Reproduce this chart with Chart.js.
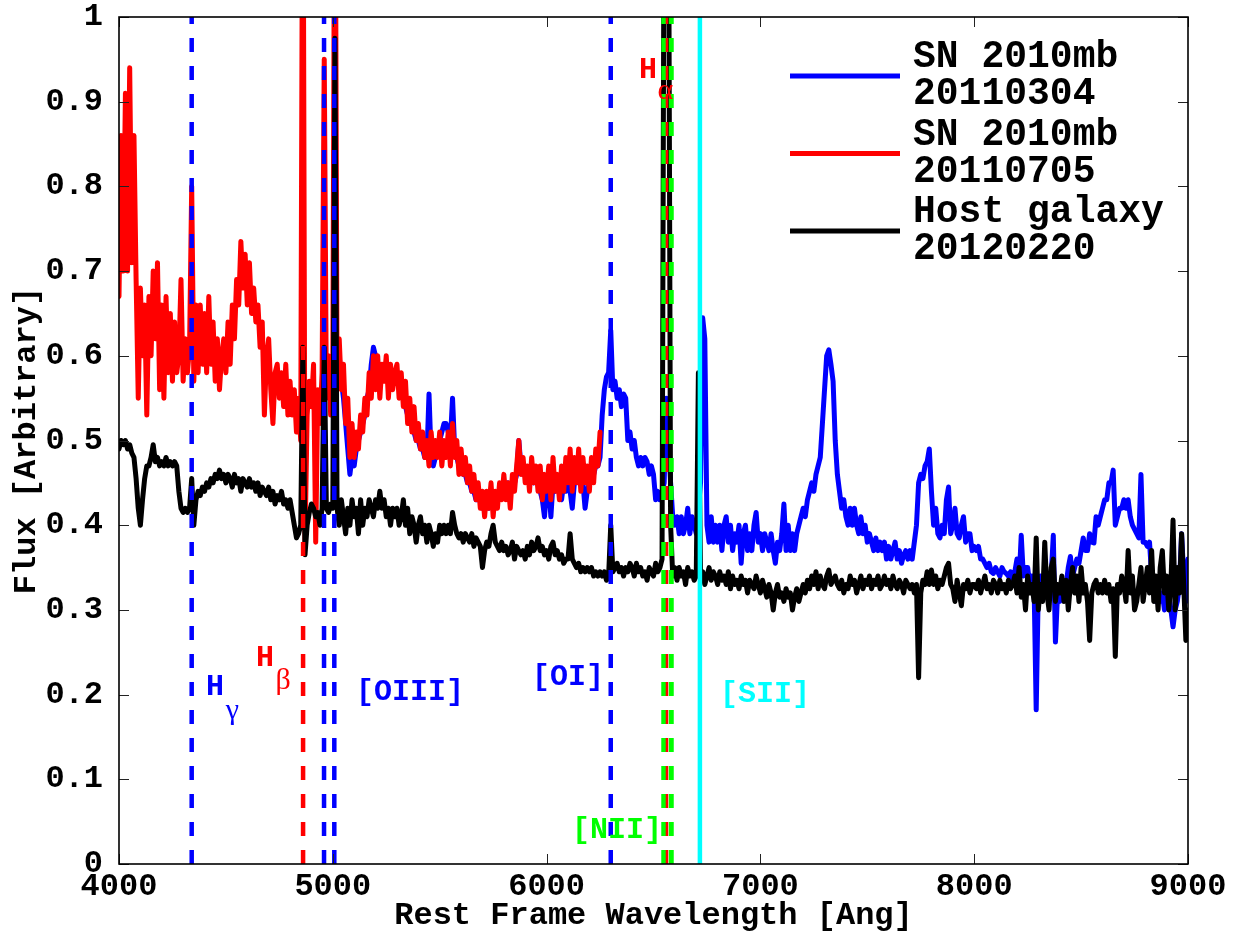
<!DOCTYPE html>
<html>
<head>
<meta charset="utf-8">
<title>SN 2010mb spectra</title>
<script src="https://cdn.jsdelivr.net/npm/chart.js@4.4.0/dist/chart.umd.min.js"></script>
<style>
  html, body { margin: 0; padding: 0; background: #fff; }
  #wrap { width: 1243px; height: 934px; }
</style>
</head>
<body>
<div id="wrap"><canvas id="spec" width="1243" height="934"></canvas></div>
<script>
// Spectra are binned at a fixed step in Angstrom
const waveStep = 10;
const sn0304Start = 5000;
const sn0705Start = 4000;
const hostStart = 4000;

// SN 2010mb 20110304 (blue), 5000..9000
const sn0304Flux = [
  0.56,0.60,0.57,0.60,0.57,0.55,0.52,0.49,0.46,0.48,
  0.47,0.49,0.50,0.51,0.52,0.53,0.55,0.56,0.59,0.61,
  0.60,0.59,0.59,0.58,0.59,0.58,0.59,0.58,0.58,0.57,
  0.58,0.57,0.56,0.55,0.54,0.53,0.53,0.52,0.51,0.50,
  0.50,0.49,0.49,0.48,0.48,0.555,0.48,0.47,0.48,0.49,
  0.50,0.51,0.52,0.52,0.51,0.50,0.55,0.49,0.48,0.47,
  0.47,0.46,0.46,0.45,0.45,0.44,0.44,0.43,0.43,0.43,
  0.42,0.42,0.43,0.42,0.43,0.42,0.43,0.43,0.44,0.44,
  0.44,0.44,0.45,0.44,0.45,0.45,0.46,0.50,0.47,0.46,
  0.46,0.46,0.45,0.46,0.45,0.46,0.45,0.44,0.43,0.41,
  0.44,0.45,0.41,0.45,0.44,0.45,0.44,0.43,0.45,0.44,
  0.45,0.44,0.42,0.45,0.46,0.45,0.46,0.45,0.42,0.44,
  0.45,0.46,0.46,0.47,0.47,0.48,0.53,0.56,0.575,0.58,
  0.63,0.56,0.57,0.55,0.56,0.54,0.555,0.55,0.50,0.51,
  0.49,0.50,0.48,0.47,0.48,0.47,0.48,0.475,0.46,0.47,
  0.46,0.43,0.44,0.43,0.44,0.45,0.55,0.50,0.45,0.41,
  0.40,0.41,0.39,0.41,0.39,0.40,0.42,0.39,0.41,0.40,
  0.39,0.42,0.45,0.645,0.62,0.40,0.38,0.41,0.38,0.40,
  0.38,0.40,0.37,0.40,0.41,0.38,0.40,0.37,0.39,0.38,
  0.40,0.355,0.39,0.40,0.37,0.39,0.37,0.40,0.415,0.38,
  0.39,0.37,0.39,0.38,0.37,0.39,0.37,0.355,0.38,0.37,
  0.39,0.425,0.37,0.40,0.37,0.39,0.37,0.39,0.40,0.41,
  0.42,0.41,0.43,0.44,0.45,0.44,0.46,0.47,0.48,0.52,
  0.56,0.60,0.607,0.59,0.57,0.50,0.46,0.44,0.42,0.43,
  0.41,0.40,0.42,0.40,0.42,0.40,0.39,0.41,0.39,0.40,
  0.38,0.39,0.38,0.37,0.385,0.37,0.38,0.37,0.38,0.36,
  0.375,0.36,0.37,0.38,0.36,0.37,0.355,0.365,0.37,0.36,
  0.37,0.36,0.38,0.40,0.45,0.46,0.455,0.47,0.475,0.49,
  0.44,0.40,0.42,0.39,0.385,0.40,0.39,0.43,0.445,0.39,
  0.40,0.42,0.39,0.385,0.40,0.41,0.38,0.39,0.39,0.37,
  0.375,0.37,0.375,0.36,0.36,0.355,0.35,0.355,0.345,0.343,
  0.35,0.345,0.34,0.35,0.345,0.343,0.34,0.345,0.335,0.345,
  0.36,0.335,0.388,0.34,0.35,0.35,0.33,0.34,0.33,0.182,
  0.33,0.34,0.33,0.32,0.33,0.34,0.34,0.388,0.262,0.32,
  0.31,0.32,0.33,0.33,0.35,0.363,0.34,0.35,0.36,0.355,
  0.37,0.385,0.37,0.37,0.39,0.38,0.379,0.41,0.40,0.41,
  0.42,0.43,0.43,0.45,0.45,0.465,0.40,0.41,0.42,0.42,
  0.43,0.42,0.43,0.41,0.40,0.395,0.39,0.385,0.46,0.38,
  0.38,0.375,0.38,0.34,0.32,0.31,0.33,0.31,0.32,0.30,
  0.31,0.32,0.30,0.28,0.30,0.31,0.33,0.39,0.34,0.31,
  0.36
];

// SN 2010mb 20110705 (red), 4000..6250
const sn0705Flux = [
  0.67,0.86,0.70,0.91,0.70,0.94,0.71,0.86,0.69,0.55,
  0.68,0.60,0.66,0.53,0.67,0.60,0.70,0.62,0.71,0.56,
  0.66,0.55,0.67,0.58,0.65,0.57,0.64,0.58,0.60,0.69,
  0.57,0.62,0.58,0.61,0.80,0.57,0.66,0.58,0.66,0.59,
  0.65,0.58,0.67,0.59,0.64,0.57,0.62,0.56,0.60,0.62,
  0.58,0.64,0.59,0.66,0.62,0.69,0.66,0.735,0.68,0.72,
  0.66,0.71,0.65,0.68,0.64,0.66,0.61,0.64,0.53,0.60,
  0.62,0.56,0.52,0.58,0.59,0.55,0.58,0.54,0.59,0.53,
  0.57,0.53,0.56,0.51,0.55,0.50,1.30,0.38,0.53,0.57,
  0.54,0.59,0.38,0.56,0.52,0.58,0.95,0.55,0.60,0.53,
  0.58,1.30,0.56,0.62,0.56,0.59,0.52,0.55,0.48,0.52,
  0.48,0.51,0.49,0.53,0.51,0.55,0.53,0.58,0.55,0.60,
  0.56,0.60,0.55,0.59,0.57,0.60,0.55,0.59,0.56,0.58,
  0.59,0.55,0.58,0.54,0.57,0.52,0.55,0.51,0.54,0.50,
  0.52,0.49,0.51,0.48,0.50,0.47,0.51,0.48,0.50,0.48,
  0.51,0.47,0.50,0.48,0.51,0.47,0.52,0.48,0.50,0.46,
  0.49,0.46,0.48,0.45,0.47,0.44,0.46,0.43,0.45,0.42,
  0.44,0.41,0.44,0.42,0.45,0.41,0.44,0.42,0.45,0.43,
  0.46,0.43,0.45,0.42,0.46,0.44,0.47,0.50,0.46,0.48,
  0.45,0.47,0.44,0.48,0.45,0.47,0.44,0.47,0.43,0.46,
  0.44,0.47,0.43,0.48,0.44,0.46,0.43,0.47,0.44,0.48,
  0.45,0.49,0.44,0.48,0.45,0.49,0.44,0.48,0.45,0.47,
  0.44,0.48,0.45,0.49,0.47,0.51
];

// Host galaxy 20120220 (black), 4000..9000
const hostFlux = [
  0.49,0.50,0.495,0.50,0.49,0.495,0.485,0.48,0.455,0.42,
  0.40,0.43,0.455,0.47,0.47,0.48,0.495,0.475,0.48,0.47,
  0.475,0.47,0.48,0.47,0.475,0.47,0.475,0.47,0.44,0.42,
  0.415,0.42,0.415,0.42,0.455,0.40,0.43,0.44,0.435,0.445,
  0.44,0.45,0.445,0.455,0.45,0.46,0.455,0.465,0.455,0.46,
  0.45,0.46,0.455,0.445,0.46,0.45,0.455,0.44,0.455,0.45,
  0.445,0.455,0.445,0.45,0.44,0.45,0.435,0.445,0.44,0.435,
  0.445,0.43,0.44,0.425,0.435,0.43,0.44,0.425,0.43,0.42,
  0.43,0.415,0.40,0.385,0.39,0.40,0.61,0.365,0.40,0.415,
  0.425,0.42,0.41,0.415,0.40,0.42,0.61,0.42,0.415,0.425,
  0.42,0.975,0.42,0.40,0.43,0.41,0.39,0.42,0.40,0.43,
  0.41,0.42,0.39,0.43,0.40,0.42,0.41,0.43,0.42,0.41,
  0.43,0.42,0.44,0.42,0.43,0.41,0.42,0.40,0.42,0.41,
  0.42,0.40,0.41,0.43,0.40,0.42,0.39,0.41,0.40,0.38,
  0.40,0.41,0.39,0.40,0.38,0.40,0.39,0.375,0.39,0.38,
  0.40,0.39,0.40,0.39,0.40,0.39,0.415,0.40,0.39,0.385,
  0.39,0.38,0.39,0.385,0.38,0.39,0.375,0.385,0.38,0.375,
  0.35,0.37,0.38,0.375,0.39,0.40,0.38,0.375,0.37,0.38,
  0.37,0.375,0.365,0.37,0.38,0.36,0.375,0.37,0.365,0.37,
  0.36,0.375,0.365,0.38,0.37,0.375,0.385,0.37,0.375,0.365,
  0.37,0.36,0.375,0.38,0.365,0.37,0.36,0.365,0.355,0.36,
  0.36,0.39,0.36,0.355,0.35,0.355,0.345,0.35,0.345,0.35,
  0.345,0.35,0.34,0.345,0.34,0.345,0.34,0.345,0.335,0.34,
  0.40,0.345,0.35,0.355,0.345,0.35,0.34,0.35,0.345,0.355,
  0.35,0.34,0.355,0.345,0.35,0.34,0.345,0.335,0.35,0.345,
  0.34,0.355,0.345,0.35,0.36,1.20,1.20,1.20,0.40,0.34,
  0.35,0.335,0.35,0.34,0.345,0.33,0.35,0.34,0.345,0.335,
  0.34,0.58,0.34,0.345,0.33,0.34,0.35,0.335,0.345,0.34,
  0.33,0.345,0.335,0.34,0.33,0.345,0.325,0.34,0.33,0.335,
  0.325,0.34,0.33,0.335,0.32,0.335,0.33,0.325,0.34,0.33,
  0.32,0.335,0.325,0.315,0.33,0.32,0.30,0.32,0.33,0.315,
  0.32,0.31,0.325,0.315,0.32,0.30,0.315,0.325,0.31,0.32,
  0.33,0.32,0.335,0.325,0.34,0.33,0.345,0.325,0.34,0.33,
  0.325,0.34,0.347,0.33,0.335,0.34,0.33,0.325,0.335,0.32,
  0.33,0.325,0.34,0.33,0.335,0.32,0.33,0.34,0.325,0.335,
  0.33,0.34,0.325,0.335,0.33,0.34,0.325,0.33,0.34,0.33,
  0.335,0.325,0.34,0.33,0.325,0.335,0.33,0.32,0.335,0.33,
  0.325,0.33,0.32,0.33,0.22,0.32,0.335,0.33,0.345,0.33,
  0.347,0.33,0.34,0.325,0.335,0.33,0.34,0.35,0.355,0.33,
  0.325,0.31,0.335,0.32,0.305,0.33,0.325,0.335,0.32,0.33,
  0.33,0.325,0.335,0.32,0.33,0.34,0.325,0.33,0.32,0.335,
  0.33,0.32,0.335,0.325,0.33,0.32,0.335,0.325,0.33,0.34,
  0.32,0.35,0.315,0.33,0.30,0.34,0.32,0.33,0.31,0.385,
  0.30,0.33,0.31,0.38,0.32,0.30,0.35,0.36,0.31,0.33,
  0.32,0.34,0.31,0.335,0.30,0.33,0.35,0.32,0.34,0.31,
  0.35,0.32,0.33,0.31,0.264,0.32,0.33,0.335,0.32,0.33,
  0.32,0.335,0.32,0.33,0.31,0.325,0.245,0.33,0.32,0.34,
  0.33,0.31,0.37,0.32,0.34,0.30,0.31,0.33,0.35,0.31,
  0.33,0.35,0.32,0.37,0.31,0.34,0.30,0.35,0.37,0.32,
  0.34,0.30,0.33,0.406,0.30,0.35,0.32,0.39,0.33,0.264,
  0.30
];

const xTicks = [4000, 5000, 6000, 7000, 8000, 9000];
const yTicks = [0, 0.1, 0.2, 0.3, 0.4, 0.5, 0.6, 0.7, 0.8, 0.9, 1];

// Marked emission lines (rest wavelength, Angstrom)
const lineNames = ['Hgamma', 'Hbeta', 'OIII4959', 'OIII5007', 'OI', 'NII6548', 'Halpha', 'NII6583', 'SII'];
const lineWaves = [4340, 4861, 4959, 5007, 6300, 6548, 6563, 6583, 6717];

// Line labels, anchored in data coordinates
const lineLabels = [
  { text: 'H', wave: 4449, flux: 0.208, color: '#0000ff', kind: 'main' },
  { text: '\u03b3', wave: 4530, flux: 0.180, color: '#0000ff', kind: 'greek' },
  { text: 'H', wave: 4683, flux: 0.243, color: '#ff0000', kind: 'main' },
  { text: '\u03b2', wave: 4768, flux: 0.216, color: '#ff0000', kind: 'greek' },
  { text: '[OIII]', wave: 5361, flux: 0.202, color: '#0000ff', kind: 'main' },
  { text: '[OI]', wave: 6100, flux: 0.220, color: '#0000ff', kind: 'main' },
  { text: '[NII]', wave: 6329, flux: 0.040, color: '#00ff00', kind: 'main' },
  { text: '[SII]', wave: 7021, flux: 0.200, color: '#00ffff', kind: 'main' },
  { text: 'H', wave: 6474, flux: 0.937, color: '#ff0000', kind: 'main' },
  { text: '\u03b1', wave: 6556, flux: 0.912, color: '#ff0000', kind: 'greek' }
];

const MONO = "'Courier New', 'Liberation Mono', monospace";

const toPoints = (start, flux) => flux.map((f, i) => ({ x: start + i * waveStep, y: f }));

function lineStyle(name) {
  if (name === 'Halpha') return { color: '#ff0000', width: 2.5, dash: [14, 14], order: 0 };
  if (name === 'Hbeta') return { color: '#ff0000', width: 4.5, dash: [14, 14], order: 1 };
  if (name.startsWith('NII')) return { color: '#00ff00', width: 5, dash: [14, 14], order: 1 };
  if (name === 'SII') return { color: '#00ffff', width: 4.5, dash: [], order: 1 };
  return { color: '#0000ff', width: 4.5, dash: [14, 14], order: 1 };
}

const markerSets = lineNames.map((name, i) => {
  const s = lineStyle(name);
  return {
    label: name,
    data: [{ x: lineWaves[i], y: 0 }, { x: lineWaves[i], y: 1 }],
    borderColor: s.color,
    borderWidth: s.width,
    borderDash: s.dash,
    borderCapStyle: 'butt',
    order: s.order
  };
});

const spectrumSet = (label, start, flux, color, order) => ({
  label: label,
  legendText: label.split('\n'),
  data: toPoints(start, flux),
  borderColor: color,
  borderWidth: 5,
  borderJoinStyle: 'round',
  borderCapStyle: 'round',
  order: order
});

// Frame with inward ticks on all four sides
const framePlugin = {
  id: 'frame',
  afterDraw(chart) {
    const { ctx, chartArea: a, scales } = chart;
    ctx.save();
    ctx.strokeStyle = '#222';
    ctx.lineWidth = 1;
    ctx.beginPath();
    xTicks.forEach(v => {
      const px = Math.round(scales.x.getPixelForValue(v)) + 0.5;
      ctx.moveTo(px, a.bottom); ctx.lineTo(px, a.bottom - 10);
      ctx.moveTo(px, a.top); ctx.lineTo(px, a.top + 10);
    });
    yTicks.forEach(v => {
      const py = Math.round(scales.y.getPixelForValue(v)) + 0.5;
      ctx.moveTo(a.left, py); ctx.lineTo(a.left + 10, py);
      ctx.moveTo(a.right, py); ctx.lineTo(a.right - 10, py);
    });
    ctx.stroke();
    ctx.strokeStyle = '#000';
    ctx.lineWidth = 1.6;
    ctx.strokeRect(a.left, a.top, a.right - a.left, a.bottom - a.top);
    ctx.restore();
  }
};

// Line identifications
const labelPlugin = {
  id: 'lineLabels',
  afterDatasetsDraw(chart) {
    const { ctx, scales } = chart;
    ctx.save();
    ctx.textAlign = 'center';
    ctx.textBaseline = 'middle';
    lineLabels.forEach(l => {
      ctx.font = l.kind === 'greek' ? "30px 'Liberation Serif', serif" : 'bold 30px ' + MONO;
      ctx.fillStyle = l.color;
      ctx.fillText(l.text, scales.x.getPixelForValue(l.wave), scales.y.getPixelForValue(l.flux));
    });
    ctx.restore();
  }
};

// Two-line legend entries, top right inside the axes
const legendPlugin = {
  id: 'spectraLegend',
  afterDraw(chart) {
    const { ctx, chartArea: a } = chart;
    const entries = chart.data.datasets.filter(d => d.legendText).sort((p, q) => q.order - p.order);
    ctx.save();
    ctx.font = 'bold 38px ' + MONO;
    ctx.textAlign = 'left';
    ctx.textBaseline = 'middle';
    entries.forEach((d, i) => {
      const yMid = a.top + 59 + i * 77.5;
      ctx.strokeStyle = d.borderColor;
      ctx.lineWidth = 5;
      ctx.beginPath();
      ctx.moveTo(a.right - 398, yMid);
      ctx.lineTo(a.right - 288, yMid);
      ctx.stroke();
      ctx.fillStyle = '#000';
      ctx.fillText(d.legendText[0], a.right - 275, yMid - 18.5);
      ctx.fillText(d.legendText[1], a.right - 275, yMid + 18.5);
    });
    ctx.restore();
  }
};

new Chart(document.getElementById('spec'), {
  type: 'line',
  data: {
    datasets: [
      ...markerSets,
      spectrumSet('Host galaxy\n20120220', hostStart, hostFlux, '#000000', 2),
      spectrumSet('SN 2010mb\n20110705', sn0705Start, sn0705Flux, '#ff0000', 3),
      spectrumSet('SN 2010mb\n20110304', sn0304Start, sn0304Flux, '#0000ff', 4)
    ]
  },
  options: {
    responsive: false,
    animation: false,
    events: [],
    layout: { padding: { left: 0, right: 55, top: 17, bottom: 0 } },
    datasets: {
      line: { pointRadius: 0, pointHoverRadius: 0, tension: 0, fill: false, clip: 0 }
    },
    plugins: {
      legend: { display: false },
      tooltip: { enabled: false }
    },
    scales: {
      x: {
        type: 'linear',
        min: 4000,
        max: 9000,
        afterBuildTicks: s => { s.ticks = xTicks.map(v => ({ value: v })); },
        afterFit: s => { s.height = 70; s.paddingLeft = 0; s.paddingRight = 0; },
        grid: { display: false, drawTicks: false },
        border: { display: false },
        ticks: {
          padding: 4,
          maxRotation: 0,
          color: '#000',
          font: { family: MONO, size: 32, weight: 'bold' },
          callback: v => String(v)
        },
        title: {
          display: true,
          text: 'Rest Frame Wavelength [Ang]',
          color: '#000',
          padding: { top: 0, bottom: 2 },
          font: { family: MONO, size: 32, weight: 'bold', lineHeight: 1 }
        }
      },
      y: {
        type: 'linear',
        min: 0,
        max: 1,
        afterBuildTicks: s => { s.ticks = yTicks.map(v => ({ value: v })); },
        afterFit: s => { s.width = 119; s.paddingTop = 0; s.paddingBottom = 0; },
        grid: { display: false, drawTicks: false },
        border: { display: false },
        ticks: {
          padding: 16,
          color: '#000',
          font: { family: MONO, size: 32, weight: 'bold' },
          callback: v => (v === 0 ? '0' : v === 1 ? '1' : v.toFixed(1))
        },
        title: {
          display: true,
          text: 'Flux [Arbitrary]',
          color: '#000',
          padding: { top: 11, bottom: 0 },
          font: { family: MONO, size: 32, weight: 'bold', lineHeight: 1 }
        }
      }
    }
  },
  plugins: [framePlugin, labelPlugin, legendPlugin]
});
</script>
</body>
</html>
